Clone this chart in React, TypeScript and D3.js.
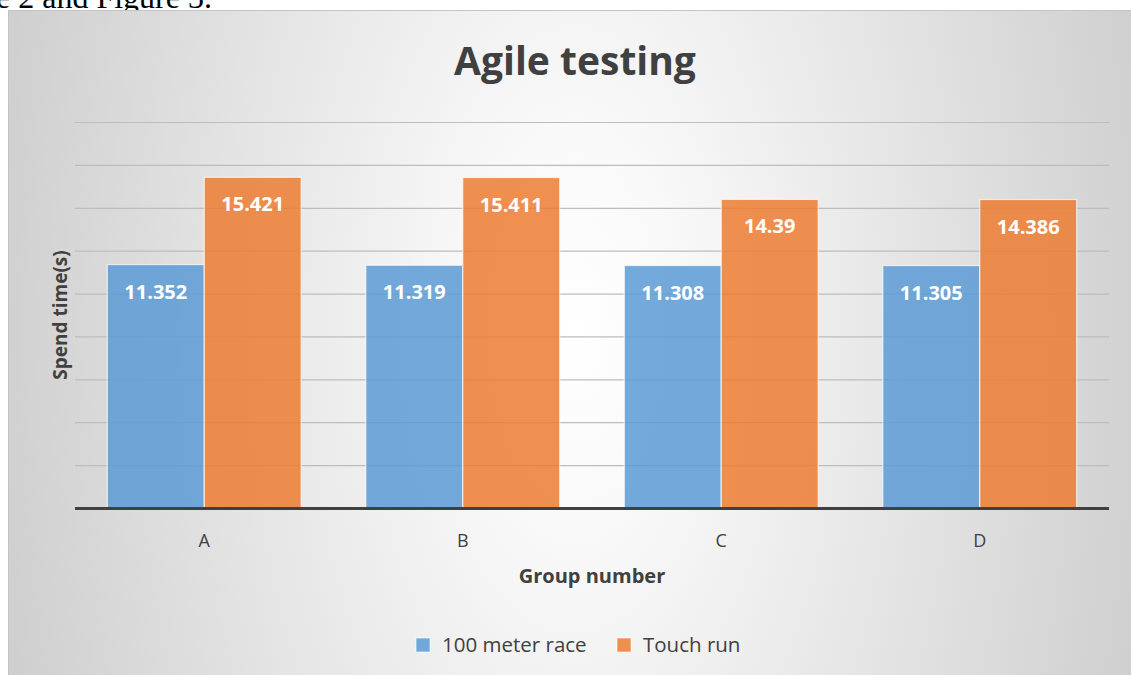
import React from 'react';
import * as d3 from 'd3';

const groups = ['A', 'B', 'C', 'D'];
const seriesNames = ['100 meter race', 'Touch run'];
const race100 = [11.352, 11.319, 11.308, 11.305];
const touchRun = [15.421, 15.411, 14.39, 14.386];
const yTicks = [0, 2, 4, 6, 8, 10, 12, 14, 16, 18];

const W = 1131;
const H = 675;
const COLORS = ['#5B9BD5', '#ED7D31'];
const FONT = '"Open Sans", Lato, sans-serif';

export default function App() {
  const x = d3.scaleBand<string>().domain(groups).range([75, 1109]).paddingInner(0.25).paddingOuter(0.125);
  const xs = d3.scaleBand<number>().domain([0, 1]).range([0, x.bandwidth()]).padding(0);
  const y = d3.scaleLinear().domain([0, 18]).range([508, 122]);
  const rows = groups.map((g, i) => ({ g, vals: [race100[i], touchRun[i]] }));

  return (
    <svg width={W} height={H} style={{ position: 'absolute', left: 0, top: 0, background: '#fff' }}>
      <defs>
        <radialGradient id="bg" gradientUnits="userSpaceOnUse" cx={0} cy={0} r={1}
          gradientTransform="translate(575,330) scale(760,1500)">
          <stop offset="0" stopColor="#ffffff" />
          <stop offset="0.15" stopColor="#f8f8f8" />
          <stop offset="1" stopColor="#c0c0c0" />
        </radialGradient>
      </defs>

      {/* bit of document text above the chart */}
      <text x={-4} y={8} fontFamily='"Liberation Serif", serif' fontSize={32} fill="#000">e 2 and Figure 3.</text>

      <rect x={8.5} y={10.5} width={1130} height={670} fill="url(#bg)" stroke="#c4c4c4" strokeWidth={1} />

      {/* gridlines */}
      {yTicks.slice(1).map(t => (
        <line key={t} x1={75} x2={1109} y1={y(t) + 0.5} y2={y(t) + 0.5} stroke="#bdbdbd" strokeWidth={1.2} />
      ))}

      {/* bars */}
      {rows.map(r => (
        <g key={r.g} transform={`translate(${x(r.g)},0)`}>
          {r.vals.map((v, si) => (
            <g key={si}>
              <rect x={xs(si)} y={y(v)} width={xs.bandwidth()} height={y(0) - y(v)}
                fill={COLORS[si]} fillOpacity={0.85} stroke="#ffffff" strokeOpacity={0.7} strokeWidth={1.2} />
              <text x={(xs(si) ?? 0) + xs.bandwidth() / 2} y={y(v) + 34} textAnchor="middle"
                fontFamily={FONT} fontWeight={700} fontSize={20} fill="#ffffff">{v}</text>
            </g>
          ))}
        </g>
      ))}

      {/* baseline */}
      <line x1={75} x2={1109} y1={y(0) + 0.5} y2={y(0) + 0.5} stroke="#404040" strokeWidth={3} />

      {/* category labels */}
      {groups.map(g => (
        <text key={g} x={(x(g) ?? 0) + x.bandwidth() / 2} y={547} textAnchor="middle"
          fontFamily={FONT} fontSize={18} fill="#404040">{g}</text>
      ))}

      {/* title */}
      <text x={575} y={75} textAnchor="middle" fontFamily={FONT} fontWeight={700} fontSize={39} fill="#404040">Agile testing</text>

      {/* axis titles */}
      <text x={592} y={583} textAnchor="middle" fontFamily={FONT} fontWeight={700} fontSize={20} fill="#404040">Group number</text>
      <text transform="translate(67,315) rotate(-90)" textAnchor="middle" fontFamily={FONT} fontWeight={700} fontSize={19} fill="#404040">Spend time(s)</text>

      {/* legend */}
      {seriesNames.map((s, i) => {
        const lx = [416, 617][i];
        return (
          <g key={s}>
            <rect x={lx} y={638} width={14} height={14} fill={COLORS[i]} fillOpacity={0.85} stroke="#fff" strokeOpacity={0.6} />
            <text x={lx + 26} y={652} fontFamily={FONT} fontSize={20.5} fill="#404040">{s}</text>
          </g>
        );
      })}
    </svg>
  );
}
